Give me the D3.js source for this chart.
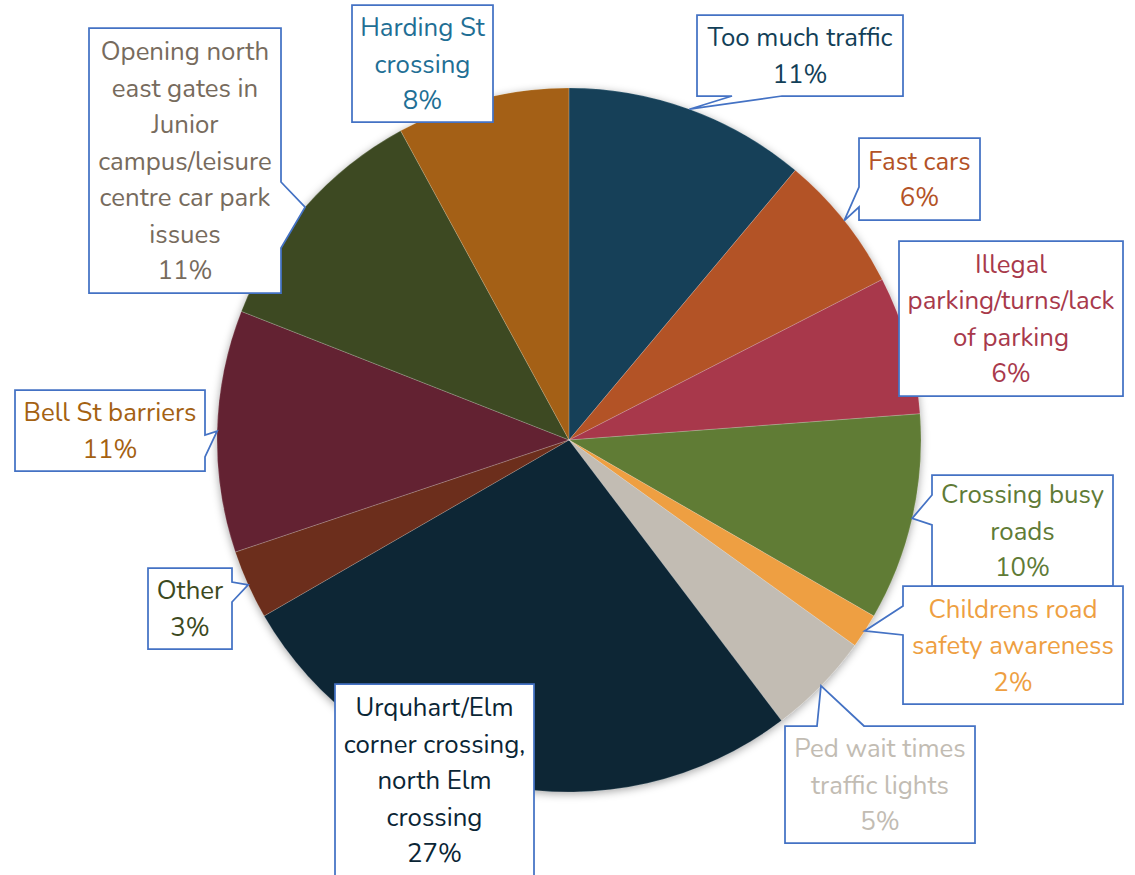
<!DOCTYPE html>
<html lang="en">
<head>
    <meta charset="UTF-8">
    <title>Traffic concerns pie</title>
    <style>
        html, body { margin: 0; padding: 0; background: #fff; }
        svg { display: block; }
        .callout text {
            font-family: Nunito, Lato, "Open Sans", sans-serif;
            font-size: 25.8px;
            text-anchor: middle;
        }
    </style>
</head>
<body>
    <svg id="chart" width="1135" height="875"></svg>

    <script src="https://cdnjs.cloudflare.com/ajax/libs/d3/7.8.5/d3.min.js"></script>
    <script>
        // data (counts out of 63 respondents)
        const categories = ["Too much traffic", "Fast cars", "Illegal parking/turns/lack of parking",
            "Crossing busy roads", "Childrens road safety awareness", "Ped wait times traffic lights",
            "Urquhart/Elm corner crossing, north Elm crossing", "Other", "Bell St barriers",
            "Opening north east gates in Junior campus/leisure centre car park issues", "Harding St crossing"];
        const counts = [7, 4, 4, 6, 1, 3, 17, 2, 7, 7, 5];
        const labelLines = [
            ["Too much traffic"],
            ["Fast cars"],
            ["Illegal", "parking/turns/lack", "of parking"],
            ["Crossing busy", "roads"],
            ["Childrens road", "safety awareness"],
            ["Ped wait times", "traffic lights"],
            ["Urquhart/Elm", "corner crossing,", "north Elm", "crossing"],
            ["Other"],
            ["Bell St barriers"],
            ["Opening north", "east gates in", "Junior", "campus/leisure", "centre car park", "issues"],
            ["Harding St", "crossing"]
        ];
        const sliceColors = ["#123F58", "#B35226", "#A8394B", "#607B36", "#EE9F42", "#C2BCB3",
            "#0A2535", "#6C2F1A", "#632330", "#3C4920", "#A46112"];
        const labelColors = ["#123F58", "#B35226", "#A8394B", "#607B36", "#EE9F42", "#C2BCB3",
            "#0A2535", "#3C4920", "#A46112", "#776B5D", "#1F6F95"];

        // callout box placement: x, y, w, h, side of the pointer, pointer base along that side
        const boxes = [
            { x: 697, y: 15,  w: 206, h: 81,  side: "bottom", b: [732, 782] },
            { x: 859, y: 138, w: 121, h: 82,  side: "left",   b: [187, 207] },
            { x: 899, y: 241, w: 224, h: 155, side: null },
            { x: 932, y: 475, w: 181, h: 111, side: "left",   b: [495, 525] },
            { x: 903, y: 586, w: 220, h: 118, side: "left",   b: [606, 635] },
            { x: 785, y: 726, w: 190, h: 117, side: "top",    b: [817, 864] },
            { x: 335, y: 684, w: 199, h: 192, side: null },
            { x: 148, y: 568, w: 84,  h: 81,  side: "right",  b: [582, 602] },
            { x: 15,  y: 390, w: 190, h: 81,  side: "right",  b: [435, 457] },
            { x: 89,  y: 28,  w: 192, h: 265, side: "right",  b: [182, 248] },
            { x: 352, y: 5,   w: 141, h: 117, side: null }
        ];

        const svg = d3.select("#chart");
        const cx = 569, cy = 440, radius = 352;
        const lineH = 36.5;
        const total = d3.sum(counts);

        const defs = svg.append("defs");
        defs.append("filter")
            .attr("id", "shadow")
            .attr("x", "-10%").attr("y", "-10%")
            .attr("width", "120%").attr("height", "120%")
            .append("feDropShadow")
            .attr("dx", 0).attr("dy", 2)
            .attr("stdDeviation", 4)
            .attr("flood-color", "#000")
            .attr("flood-opacity", 0.35);

        const pie = d3.pie().sort(null).value(d => d);
        const arcs = pie(counts);

        const arc = d3.arc().innerRadius(0).outerRadius(radius);
        const edge = d3.arc().innerRadius(radius).outerRadius(radius);

        const g = svg.append("g").attr("transform", `translate(${cx},${cy})`);

        g.append("g")
            .attr("filter", "url(#shadow)")
            .selectAll("path")
            .data(arcs)
            .enter().append("path")
            .attr("d", arc)
            .attr("fill", (d, i) => sliceColors[i]);

        g.append("g")
            .selectAll("path")
            .data(arcs)
            .enter().append("path")
            .attr("d", arc)
            .attr("fill", "none")
            .attr("stroke", "#ffffff")
            .attr("stroke-opacity", 0.3)
            .attr("stroke-width", 0.5);

        // callout outline with a wedge pointing at the slice edge
        function calloutPath(bx, tip) {
            const { x, y, w, h, side, b } = bx;
            const r = x + w, btm = y + h;
            const inside = tip[0] >= x && tip[0] <= r && tip[1] >= y && tip[1] <= btm;
            const p = d3.path();
            p.moveTo(x, y);
            if (side === "top" && !inside) {
                p.lineTo(b[0], y); p.lineTo(tip[0], tip[1]); p.lineTo(b[1], y);
            }
            p.lineTo(r, y);
            if (side === "right" && !inside) {
                p.lineTo(r, b[0]); p.lineTo(tip[0], tip[1]); p.lineTo(r, b[1]);
            }
            p.lineTo(r, btm);
            if (side === "bottom" && !inside) {
                p.lineTo(b[1], btm); p.lineTo(tip[0], tip[1]); p.lineTo(b[0], btm);
            }
            p.lineTo(x, btm);
            if (side === "left" && !inside) {
                p.lineTo(x, b[1]); p.lineTo(tip[0], tip[1]); p.lineTo(x, b[0]);
            }
            p.closePath();
            return p.toString();
        }

        const callouts = svg.append("g")
            .selectAll("g")
            .data(arcs)
            .enter().append("g")
            .attr("class", "callout");

        callouts.append("path")
            .attr("d", (d, i) => {
                const c = edge.centroid(d);
                return calloutPath(boxes[i], [c[0] + cx, c[1] + cy]);
            })
            .attr("fill", "#ffffff")
            .attr("stroke", "#4472C4")
            .attr("stroke-width", 1.75)
            .attr("stroke-linejoin", "miter");

        callouts.each(function(d, i) {
            const bx = boxes[i];
            const lines = labelLines[i].concat([Math.round(d.value / total * 100) + "%"]);
            const midY = bx.y + bx.h / 2;
            const t = d3.select(this).append("text")
                .attr("fill", labelColors[i]);
            lines.forEach((ln, k) => {
                t.append("tspan")
                    .attr("x", bx.x + bx.w / 2)
                    .attr("y", midY + (k - (lines.length - 1) / 2) * lineH)
                    .attr("dy", "0.35em")
                    .text(ln);
            });
        });
    </script>
</body>
</html>
